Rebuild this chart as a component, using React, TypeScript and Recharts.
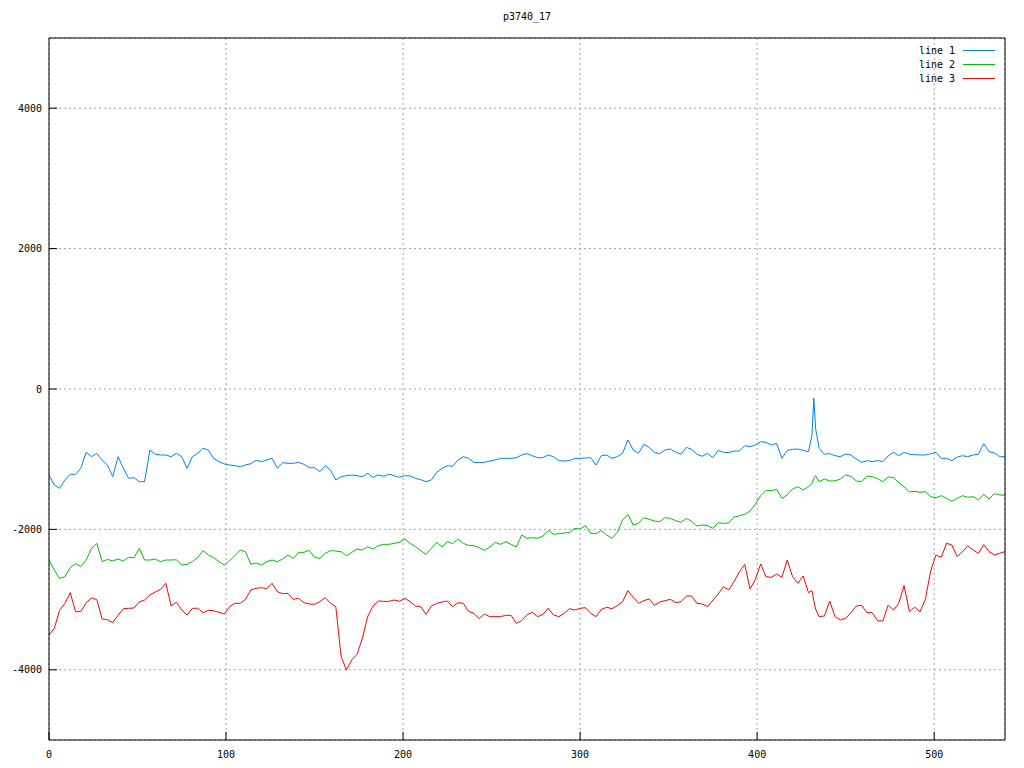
import React from 'react';
import { LineChart, Line, XAxis, YAxis, CartesianGrid } from 'recharts';

const title = 'p3740_17';
const seriesNames = ['line 1', 'line 2', 'line 3'];
const seriesColors = ['#0080ff', '#00c000', '#ff0000'];
const xTicks = [0, 100, 200, 300, 400, 500];
const yTicks = [-4000, -2000, 0, 2000, 4000];

const xs = [
  0, 3, 6, 9, 12, 15, 18, 21, 24, 27,
  30, 33, 36, 39, 42, 45, 48, 51, 54, 57,
  60, 63, 66, 69, 72, 75, 78, 81, 84, 87,
  90, 93, 96, 99, 102, 105, 108, 111, 114, 117,
  120, 123, 126, 129, 132, 135, 138, 141, 144, 147,
  150, 153, 156, 159, 162, 165, 168, 171, 174, 177,
  180, 183, 186, 189, 192, 195, 198, 201, 204, 207,
  210, 213, 216, 219, 222, 225, 228, 231, 234, 237,
  240, 243, 246, 249, 252, 255, 258, 261, 264, 267,
  270, 273, 276, 279, 282, 285, 288, 291, 294, 297,
  300, 303, 306, 309, 312, 315, 318, 321, 324, 327,
  330, 333, 336, 339, 342, 345, 348, 351, 354, 357,
  360, 363, 366, 369, 372, 375, 378, 381, 384, 387,
  390, 393, 396, 399, 402, 405, 408, 411, 414, 417,
  420, 423, 426, 429, 431, 432, 433, 435, 438, 441,
  444, 447, 450, 453, 456, 459, 462, 465, 468, 471,
  474, 477, 480, 483, 486, 489, 492, 495, 498, 501,
  504, 507, 510, 513, 516, 519, 522, 525, 528, 531,
  534, 537, 540,
];

const line1 = [
  -1225, -1368, -1415, -1296, -1215, -1215, -1130, -902, -964, -916,
  -1011, -1083, -1249, -964, -1130, -1273, -1263, -1320, -1320, -869,
  -930, -940, -940, -964, -916, -964, -1130, -964, -916, -845,
  -869, -988, -1035, -1068, -1083, -1092, -1106, -1083, -1064, -1016,
  -1035, -1011, -988, -1130, -1049, -1059, -1059, -1045, -1073, -1121,
  -1121, -1178, -1092, -1154, -1296, -1249, -1235, -1225, -1235, -1249,
  -1201, -1258, -1225, -1244, -1215, -1235, -1258, -1235, -1239, -1273,
  -1292, -1320, -1296, -1187, -1130, -1092, -1102, -1011, -964, -988,
  -1045, -1049, -1045, -1026, -1011, -988, -988, -988, -978, -940,
  -921, -950, -978, -978, -940, -964, -1021, -1026, -1021, -988,
  -988, -983, -978, -1083, -950, -940, -988, -964, -916, -726,
  -869, -916, -788, -831, -907, -921, -869, -855, -902, -930,
  -831, -859, -930, -959, -916, -978, -874, -902, -907, -883,
  -883, -807, -821, -798, -750, -760, -798, -774, -988, -874,
  -859, -855, -874, -893, -650, -130, -560, -845, -930, -921,
  -950, -964, -926, -940, -997, -1045, -1021, -1035, -1021, -1035,
  -954, -902, -950, -902, -930, -935, -940, -940, -921, -902,
  -988, -988, -1021, -969, -950, -964, -940, -930, -779, -893,
  -911, -964, -964,
];

const line2 = [
  -2436, -2579, -2698, -2674, -2546, -2484, -2531, -2436, -2270, -2200,
  -2460, -2427, -2450, -2422, -2450, -2398, -2403, -2270, -2436, -2436,
  -2422, -2460, -2436, -2436, -2432, -2508, -2498, -2460, -2398, -2303,
  -2365, -2403, -2460, -2508, -2446, -2375, -2294, -2318, -2498, -2479,
  -2508, -2460, -2436, -2460, -2422, -2365, -2413, -2327, -2327, -2299,
  -2398, -2413, -2341, -2303, -2308, -2318, -2375, -2327, -2280, -2294,
  -2246, -2280, -2232, -2213, -2213, -2199, -2185, -2137, -2199, -2246,
  -2303, -2356, -2270, -2185, -2251, -2175, -2204, -2137, -2199, -2227,
  -2232, -2261, -2299, -2251, -2185, -2213, -2175, -2213, -2251, -2080,
  -2128, -2118, -2128, -2094, -2014, -2071, -2061, -2052, -2042, -1985,
  -1995, -1947, -2056, -2061, -2018, -2080, -2128, -2042, -1866, -1786,
  -1938, -1914, -1833, -1857, -1881, -1890, -1833, -1843, -1876, -1900,
  -1843, -1885, -1952, -1938, -1947, -1985, -1904, -1914, -1909, -1824,
  -1805, -1786, -1738, -1638, -1520, -1444, -1448, -1429, -1558, -1510,
  -1425, -1391, -1439, -1391, -1344, -1273, -1235, -1320, -1282, -1310,
  -1310, -1282, -1225, -1244, -1310, -1320, -1239, -1249, -1277, -1320,
  -1254, -1263, -1334, -1396, -1463, -1458, -1472, -1463, -1534, -1548,
  -1520, -1558, -1600, -1558, -1520, -1543, -1534, -1581, -1501, -1567,
  -1491, -1510, -1510,
];

const line3 = [
  -3504, -3409, -3153, -3053, -2900, -3172, -3172, -3044, -2975, -3000,
  -3276, -3286, -3328, -3224, -3129, -3124, -3120, -3034, -3006, -2934,
  -2892, -2854, -2768, -3091, -3039, -3148, -3219, -3124, -3124, -3186,
  -3153, -3158, -3181, -3205, -3101, -3053, -3053, -2996, -2863, -2840,
  -2830, -2844, -2768, -2887, -2915, -2911, -2996, -2982, -3044, -3063,
  -3067, -3029, -2972, -3053, -3101, -3813, -4003, -3860, -3780, -3552,
  -3243, -3091, -3020, -3025, -3025, -3006, -3025, -2982, -3029, -3091,
  -3101, -3210, -3091, -3053, -3034, -3020, -3101, -3044, -3053, -3167,
  -3196, -3271, -3205, -3243, -3243, -3243, -3224, -3224, -3338, -3300,
  -3215, -3181, -3243, -3210, -3124, -3219, -3243, -3196, -3129, -3148,
  -3124, -3115, -3196, -3243, -3139, -3110, -3129, -3086, -3029, -2873,
  -2968, -3053, -3015, -2991, -3082, -3034, -3015, -2996, -3044, -3029,
  -2949, -2949, -3053, -3063, -3101, -3006, -2920, -2816, -2863, -2740,
  -2602, -2500, -2850, -2711, -2493, -2673, -2683, -2635, -2683, -2436,
  -2673, -2768, -2664, -2901, -2873, -3015, -3134, -3243, -3233, -3020,
  -3243, -3290, -3267, -3186, -3091, -3082, -3186, -3186, -3300, -3305,
  -3077, -3148, -3053, -2800, -3172, -3110, -3172, -2996, -2593, -2365,
  -2398, -2198, -2222, -2388, -2317, -2236, -2294, -2341, -2217, -2317,
  -2365, -2341, -2317,
];

const data = xs.map((x, i) => ({ x, l1: line1[i], l2: line2[i], l3: line3[i] }));

const FONT = '"DejaVu Sans Mono", monospace';

export default function App() {
  const keys = ['l1', 'l2', 'l3'];
  return (
    <div style={{ position: 'absolute', left: 0, top: 0, width: 1024, height: 768, background: '#fff' }}>
      <LineChart width={1024} height={768} data={data} margin={{ top: 0, right: 0, bottom: 0, left: 0 }}>
        <CartesianGrid stroke="#a0a0a0" strokeDasharray="2 3" />
        <XAxis
          dataKey="x"
          type="number"
          domain={[0, 540]}
          ticks={xTicks}
          allowDataOverflow
          height={28}
          stroke="#000"
          tickSize={-8}
          tickMargin={19}
          tick={{ fill: '#000', fontSize: 10, fontFamily: FONT }}
        />
        <XAxis
          xAxisId="top"
          orientation="top"
          dataKey="x"
          type="number"
          domain={[0, 540]}
          ticks={xTicks}
          allowDataOverflow
          height={38}
          stroke="#000"
          tickSize={-8}
          tick={false}
        />
        <YAxis
          type="number"
          domain={[-5000, 5000]}
          ticks={yTicks}
          allowDataOverflow
          width={49}
          stroke="#000"
          tickSize={-8}
          tickMargin={15}
          tick={{ fill: '#000', fontSize: 10, fontFamily: FONT }}
        />
        <YAxis
          yAxisId="right"
          orientation="right"
          type="number"
          domain={[-5000, 5000]}
          ticks={yTicks}
          allowDataOverflow
          width={19}
          stroke="#000"
          tickSize={-8}
          tick={false}
        />
        {keys.map((k, i) => (
          <Line
            key={k}
            dataKey={k}
            name={seriesNames[i]}
            stroke={seriesColors[i]}
            strokeWidth={1}
            dot={false}
            type="linear"
            isAnimationActive={false}
          />
        ))}
      </LineChart>
      <div
        style={{
          position: 'absolute',
          left: 527,
          top: 11,
          transform: 'translateX(-50%)',
          fontFamily: FONT,
          fontSize: 10,
          color: '#000',
          whiteSpace: 'nowrap',
        }}
      >
        {title}
      </div>
      {seriesNames.map((n, i) => (
        <div
          key={n}
          style={{
            position: 'absolute',
            top: 43 + i * 14,
            left: 850,
            width: 155,
            height: 14,
            display: 'flex',
            alignItems: 'center',
            justifyContent: 'flex-end',
            fontFamily: FONT,
            fontSize: 10,
            color: '#000',
          }}
        >
          <span style={{ whiteSpace: 'pre' }}>{n}</span>
          <svg width={32} height={14} style={{ marginLeft: 8, marginRight: 10 }}>
            <line x1={0} y1={7.5} x2={32} y2={7.5} stroke={seriesColors[i]} strokeWidth={1} />
          </svg>
        </div>
      ))}
    </div>
  );
}
